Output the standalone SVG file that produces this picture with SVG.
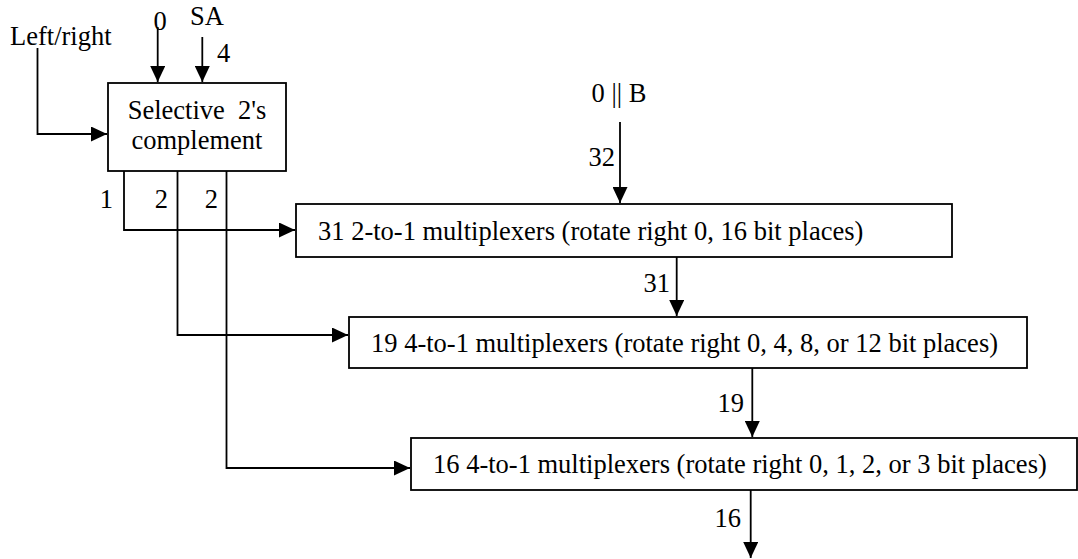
<svg xmlns="http://www.w3.org/2000/svg" width="1078" height="559" viewBox="0 0 1078 559">
<defs>
<marker id="arr" markerUnits="userSpaceOnUse" markerWidth="16" markerHeight="15" refX="16" refY="7.5" orient="auto">
<path d="M0,0 L16,7.5 L0,15 z" fill="#000"/>
</marker>
<style>
text{font-family:"Liberation Serif","Times New Roman",serif;font-size:26.5px;fill:#000}
.box{fill:#fff;stroke:#000;stroke-width:1.8}
.wire{fill:none;stroke:#000;stroke-width:1.8}
.arrow{marker-end:url(#arr)}
.mid{text-anchor:middle}
.end{text-anchor:end}
</style>
</defs>
<rect width="1078" height="559" fill="#fff"/>
<g id="connectors">
<path class="wire arrow" d="M37.5,48 V134 H107"/>
<path class="wire arrow" d="M157.7,27 V82"/>
<path class="wire arrow" d="M202.3,37 V82"/>
<path class="wire arrow" d="M124,171 V230 H295"/>
<path class="wire arrow" d="M177.5,171 V335 H348"/>
<path class="wire arrow" d="M226.5,171 V468 H410"/>
<path class="wire arrow" d="M620,122 V203"/>
<path class="wire arrow" d="M676.7,257 V316"/>
<path class="wire arrow" d="M752.3,368 V437"/>
<path class="wire arrow" d="M750.7,490 V558"/>
</g>
<g id="labels">
<text x="10" y="45">Left/right</text>
<text x="160" y="30" class="mid">0</text>
<text x="207" y="25" class="mid">SA</text>
<text x="217" y="62">4</text>
<text x="113" y="208" class="end">1</text>
<text x="168" y="208" class="end">2</text>
<text x="218" y="208" class="end">2</text>
<text x="619" y="102" class="mid">0 || B</text>
<text x="615" y="166" class="end">32</text>
<text x="670" y="292" class="end">31</text>
<text x="744" y="412" class="end">19</text>
<text x="741" y="527" class="end">16</text>
</g>
<g id="selective">
<rect class="box" x="108" y="83" width="178" height="88"/>
<text x="197" y="119" class="mid" xml:space="preserve">Selective  2's</text>
<text x="197" y="149" class="mid">complement</text>
</g>
<g id="mux31">
<rect class="box" x="296" y="204" width="656" height="53"/>
<text x="318" y="240">31 2-to-1 multiplexers (rotate right 0, 16 bit places)</text>
</g>
<g id="mux19">
<rect class="box" x="349" y="317" width="678" height="51"/>
<text x="371" y="352">19 4-to-1 multiplexers (rotate right 0, 4, 8, or 12 bit places)</text>
</g>
<g id="mux16">
<rect class="box" x="411" y="438" width="666" height="52"/>
<text x="433" y="473">16 4-to-1 multiplexers (rotate right 0, 1, 2, or 3 bit places)</text>
</g>
</svg>
